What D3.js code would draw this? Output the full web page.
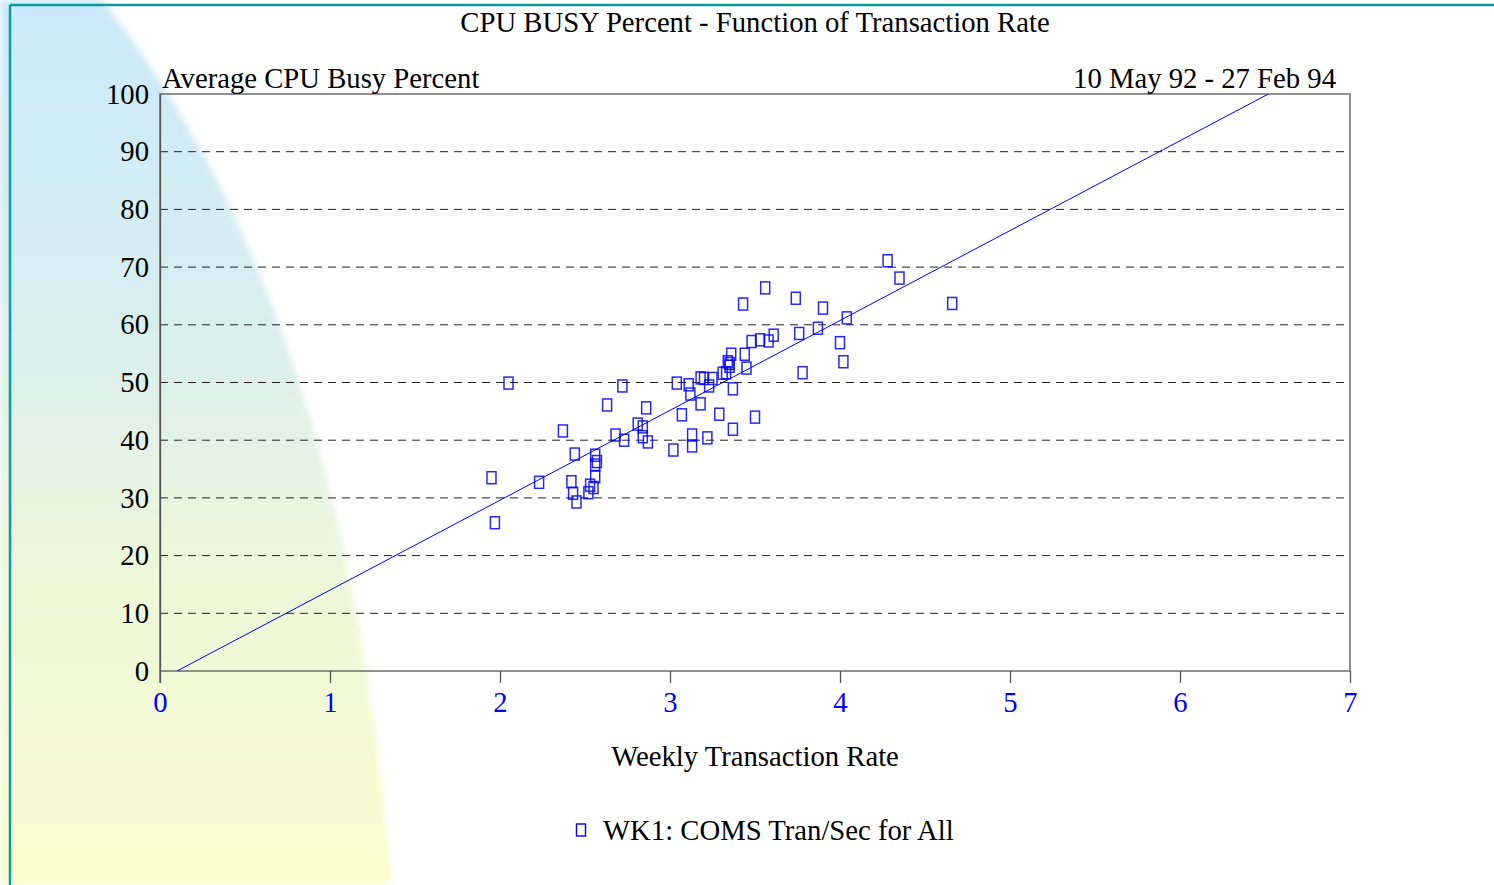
<!DOCTYPE html>
<html>
<head>
<meta charset="utf-8">
<script src="https://cdn.jsdelivr.net/npm/d3@7"></script>
<style>
  html, body { margin: 0; padding: 0; background: #fff; }
  svg { display: block; font-family: "Liberation Serif", "Times New Roman", serif; }
</style>
</head>
<body>
<div id="chart"></div>
<script>
// weekly transaction rate (tran/sec) vs average CPU busy percent
var rate = [
  1.95, 1.97, 2.05, 2.23, 2.37, 2.42, 2.43, 2.44, 2.45, 2.52,
  2.53, 2.55, 2.56, 2.56, 2.57, 2.56, 2.63, 2.68, 2.72, 2.73,
  2.81, 2.84, 2.84, 2.86, 2.87, 3.02, 3.04, 3.07, 3.11, 3.12,
  3.13, 3.13, 3.18, 3.18, 3.20, 3.22, 3.23, 3.25, 3.29, 3.31,
  3.33, 3.34, 3.35, 3.35, 3.36, 3.37, 3.37, 3.43, 3.44, 3.45,
  3.48, 3.50, 3.53, 3.56, 3.58, 3.61, 3.74, 3.76, 3.78, 3.87,
  3.90, 4.00, 4.02, 4.04, 4.28, 4.35, 4.66
];
var busy = [
  33.5, 25.7, 49.9, 32.7, 41.6, 32.8, 30.8, 37.6, 29.3, 30.9,
  32.2, 31.8, 37.4, 35.7, 36.3, 33.7, 46.1, 40.9, 49.4, 40.0,
  42.8, 42.3, 40.6, 45.6, 39.7, 38.3, 49.9, 44.4, 49.6, 48.0,
  40.9, 39.0, 50.8, 46.3, 50.7, 40.4, 49.4, 50.7, 44.5, 51.6,
  51.7, 53.6, 53.3, 52.8, 54.9, 48.9, 41.9, 63.6, 54.9, 52.5,
  57.1, 44.0, 57.4, 66.4, 57.2, 58.2, 64.6, 58.5, 51.7, 59.4,
  62.9, 56.9, 53.6, 61.2, 71.1, 68.1, 63.7
];
// fitted line end points (rate, busy)
var fitRate = [0.1, 6.52];
var fitBusy = [0, 100];

var xTicks = [0, 1, 2, 3, 4, 5, 6, 7];
var yTicks = [0, 10, 20, 30, 40, 50, 60, 70, 80, 90, 100];
var gridTicks = [10, 20, 30, 40, 50, 60, 70, 80, 90];

var chartTitle = "CPU BUSY Percent - Function of Transaction Rate";
var yTitle = "Average CPU Busy Percent";
var dateRange = "10 May 92 - 27 Feb 94";
var xTitle = "Weekly Transaction Rate";
var seriesName = "WK1: COMS Tran/Sec for All";

var W = 1494, H = 885;
var fontSize = "28.7px";
var margin = {top: 94, right: 144, bottom: 214, left: 160};
var width = W - margin.left - margin.right,
    height = H - margin.top - margin.bottom;

var svg = d3.select("#chart").append("svg")
  .attr("width", W)
  .attr("height", H);

// background swoosh
var defs = svg.append("defs");
var grad = defs.append("linearGradient")
  .attr("id", "bgGrad")
  .attr("x1", 0).attr("y1", 0).attr("x2", 0).attr("y2", 1);
grad.append("stop").attr("offset", "0%").attr("stop-color", "#cbe9fa");
grad.append("stop").attr("offset", "35%").attr("stop-color", "#d8eef0");
grad.append("stop").attr("offset", "65%").attr("stop-color", "#edf7d9");
grad.append("stop").attr("offset", "100%").attr("stop-color", "#fbfdcf");
defs.append("filter").attr("id", "soft")
  .append("feGaussianBlur").attr("stdDeviation", 3);

svg.append("path")
  .attr("d", "M0,0 L102,0 C220,150 352,400 392,885 L0,885 Z")
  .attr("fill", "url(#bgGrad)")
  .attr("filter", "url(#soft)");

// teal frame
svg.append("line")
  .attr("x1", 10).attr("x2", W).attr("y1", 5).attr("y2", 5)
  .attr("stroke", "#0a9c9c").attr("stroke-width", 2.5);
svg.append("line")
  .attr("x1", 10).attr("x2", 10).attr("y1", 5).attr("y2", H)
  .attr("stroke", "#0a9c9c").attr("stroke-width", 2.5);

var g = svg.append("g")
  .attr("transform", "translate(" + margin.left + "," + margin.top + ")");

var x = d3.scaleLinear().domain([0, 7]).range([0, width]);
var y = d3.scaleLinear().domain([0, 100]).range([height, 0]);

// dashed gridlines
g.append("g")
  .selectAll("line")
  .data(gridTicks)
  .enter().append("line")
    .attr("x1", 0)
    .attr("x2", width - 5)
    .attr("y1", function(d) { return y(d); })
    .attr("y2", function(d) { return y(d); })
    .attr("stroke", "#222")
    .attr("stroke-width", 1)
    .attr("stroke-dasharray", "8,6");

// frame
g.append("rect")
  .attr("width", width).attr("height", height)
  .attr("fill", "none").attr("stroke", "#555").attr("stroke-width", 1.3);

// x axis
var xAxis = g.append("g")
  .attr("transform", "translate(0," + height + ")")
  .call(d3.axisBottom(x).tickValues(xTicks).tickFormat(d3.format("d")).tickSize(12).tickPadding(9));
xAxis.select(".domain").remove();
xAxis.selectAll(".tick line").attr("stroke", "#555").attr("stroke-width", 1.3);
xAxis.selectAll("text")
  .attr("fill", "#0000ff")
  .style("font-size", fontSize)
  .style("font-family", "Liberation Serif");

// y axis
var yAxis = g.append("g")
  .call(d3.axisLeft(y).tickValues(yTicks).tickSize(0).tickPadding(11));
yAxis.select(".domain").attr("stroke", "#555").attr("stroke-width", 1.3);
yAxis.selectAll("text")
  .attr("fill", "#000")
  .style("font-size", fontSize)
  .style("font-family", "Liberation Serif");

// left axis runs below zero to tick length
g.append("line")
  .attr("x1", 0).attr("x2", 0).attr("y1", height).attr("y2", height + 12)
  .attr("stroke", "#555").attr("stroke-width", 1.3);

// regression line
defs.append("clipPath").attr("id", "plotClip")
  .append("rect").attr("width", width).attr("height", height);
var line = d3.line()
  .x(function(d) { return x(d[0]); })
  .y(function(d) { return y(d[1]); });
g.append("path")
  .datum(d3.zip(fitRate, fitBusy))
  .attr("clip-path", "url(#plotClip)")
  .attr("d", line)
  .attr("fill", "none")
  .attr("stroke", "#0000ff")
  .attr("stroke-width", 1);

// points
var pts = d3.zip(rate, busy);
var mw = 9, mh = 12;
g.append("g")
  .selectAll("rect")
  .data(pts)
  .enter().append("rect")
    .attr("x", function(d) { return x(d[0]) - mw / 2; })
    .attr("y", function(d) { return y(d[1]) - mh / 2; })
    .attr("width", mw)
    .attr("height", mh)
    .attr("fill", "none")
    .attr("stroke", "#0000ff")
    .attr("stroke-opacity", 0.85)
    .attr("stroke-width", 1.5);

// texts
svg.append("text")
  .attr("x", 755).attr("y", 32)
  .attr("text-anchor", "middle")
  .style("font-size", fontSize)
  .text(chartTitle);

svg.append("text")
  .attr("x", margin.left + 2).attr("y", 88)
  .style("font-size", fontSize)
  .text(yTitle);

svg.append("text")
  .attr("x", 1336).attr("y", 88)
  .attr("text-anchor", "end")
  .style("font-size", fontSize)
  .text(dateRange);

svg.append("text")
  .attr("x", 755).attr("y", 766)
  .attr("text-anchor", "middle")
  .style("font-size", fontSize)
  .text(xTitle);

// legend
var leg = svg.append("g").attr("transform", "translate(581,830)");
leg.append("rect")
  .attr("x", -mw / 2).attr("y", -mh / 2)
  .attr("width", mw).attr("height", mh)
  .attr("fill", "none").attr("stroke", "#0000ff").attr("stroke-width", 1.4);
leg.append("text")
  .attr("x", 22).attr("y", 10)
  .style("font-size", fontSize)
  .text(seriesName);
</script>
</body>
</html>
